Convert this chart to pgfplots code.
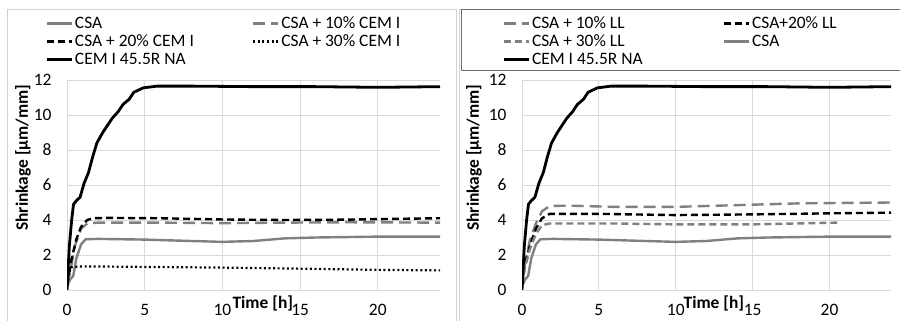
\documentclass[border=0pt]{standalone}
\usepackage{pgfplots}
\pgfplotsset{compat=1.18}
\usepackage{fontspec}
\setmainfont{Carlito}
\definecolor{csagray}{RGB}{128,128,128}
\definecolor{gridgray}{RGB}{217,217,217}
\definecolor{framegray}{RGB}{210,210,210}
\definecolor{boxgray}{RGB}{110,110,110}

\pgfplotsset{
 panel/.style={
  scale only axis, height=210bp,
  xmin=0, xmax=24, ymin=0, ymax=12,
  xtick={0,5,10,15,20}, ytick={0,2,...,12},
  grid=major, major grid style={gridgray, line width=0.9bp},
  axis line style={draw=none}, tick style={draw=none},
  ticklabel style={font=\fontsize{17.5}{21}\selectfont},
  /pgf/number format/assume math mode=true,
  xticklabel style={yshift=-11bp},
  yticklabel style={xshift=-12bp},
  label style={font=\fontsize{17.5}{21}\selectfont\bfseries},
  xlabel={Time [h]}, ylabel={Shrinkage [µm/mm]},
  legend columns=2,
  legend cell align=left,
  legend style={draw=none, fill=none, font=\fontsize{17.5}{21}\selectfont,
     anchor=north west, inner sep=0pt, row sep=0.8bp},
  legend image code/.code={\draw[##1] (0bp,0bp) -- (25bp,0bp);},
 },
 csa/.style={csagray, line width=2.4bp},
 cem/.style={black, line width=2.8bp},
 blackdash/.style={black, line width=2.4bp, dash pattern=on 7bp off 4bp},
 graylong/.style={csagray, line width=2.4bp, dash pattern=on 12bp off 6bp},
 grayshort/.style={csagray, line width=2.4bp, dash pattern=on 7bp off 4bp},
 dotted30/.style={black, line width=2.2bp, dash pattern=on 2bp off 2.6bp},
}

\pgfplotstableread{
t v
0 0
0.15 2.5
0.3 4.0
0.42 4.9
0.6 5.1
0.84 5.3
1.1 6.1
1.38 6.7
1.65 7.6
1.92 8.4
2.3 9.0
2.6 9.4
2.9 9.8
3.3 10.2
3.6 10.6
4.0 10.9
4.3 11.3
4.9 11.55
5.8 11.65
8 11.65
12 11.62
16 11.62
20 11.58
24 11.62
}\cemdata

\pgfplotstableread{
t v
0 0.2
0.2 0.6
0.4 0.8
0.6 1.8
0.9 2.6
1.2 2.9
2 2.92
5 2.88
8 2.8
10 2.75
12 2.8
14 2.95
16 3.0
20 3.05
24 3.05
}\csadata

\pgfplotstableread{
t v
0 0.3
0.2 1.0
0.5 2.5
0.9 3.5
1.3 3.8
2 3.85
6 3.85
10 3.82
14 3.85
18 3.87
24 3.85
}\cemten

\pgfplotstableread{
t v
0 0.3
0.1 0.8
0.3 1.8
0.6 2.9
0.9 3.6
1.3 4.0
1.7 4.1
2.5 4.12
6 4.1
10 4.03
14 4.0
18 4.02
20 4.05
24 4.1
}\cemtwenty

\pgfplotstableread{
t v
0 0
0.1 0.8
0.25 1.3
1 1.35
5 1.32
10 1.28
15 1.22
20 1.15
24 1.12
}\cemthirty

\pgfplotstableread{
t v
0 0.3
0.2 1.5
0.5 2.8
0.9 3.8
1.3 4.5
1.8 4.8
3 4.82
6 4.75
10 4.75
14 4.85
18 4.95
24 5.0
}\llten

\pgfplotstableread{
t v
0 0.3
0.2 1.5
0.5 2.5
0.9 3.5
1.3 4.1
1.8 4.35
5 4.35
10 4.28
15 4.32
20 4.38
24 4.42
}\lltwenty

\pgfplotstableread{
t v
0 0.3
0.2 1.3
0.5 2.3
0.9 3.2
1.3 3.7
1.8 3.8
6 3.8
10 3.75
15 3.75
20.5 3.85
}\llthirty

\begin{document}
\begin{tikzpicture}
\useasboundingbox (0bp,0bp) rectangle (900bp,321bp);
\fill[white] (0bp,0bp) rectangle (900bp,321bp);
\draw[framegray, line width=1bp] (7bp,-5bp) rectangle (456bp,311bp);
\draw[framegray, line width=1bp] (459bp,-5bp) rectangle (905bp,311bp);
\draw[boxgray, line width=1bp] (461bp,250bp) rectangle (905bp,311bp);

\begin{axis}[panel, width=373bp, at={(67bp,31bp)}, anchor=south west,
  xlabel style={at={(axis description cs:0.525,0)}, anchor=center, yshift=-13bp},
  ylabel style={at={(axis description cs:-0.118,0.63)}, anchor=center},
  legend style={at={(axis description cs:-0.059,1.312)},
     /tikz/every even column/.append style={column sep=56bp}},
]
\addplot[csa] table[x=t,y=v] {\csadata};
\addlegendentry{CSA}
\addplot[graylong] table[x=t,y=v] {\cemten};
\addlegendentry{CSA + 10\% CEM I}
\addplot[blackdash] table[x=t,y=v] {\cemtwenty};
\addlegendentry{CSA + 20\% CEM I}
\addplot[dotted30] table[x=t,y=v] {\cemthirty};
\addlegendentry{CSA + 30\% CEM I}
\addplot[cem] table[x=t,y=v] {\cemdata};
\addlegendentry{CEM I 45.5R NA}
\end{axis}

\begin{axis}[panel, width=369bp, at={(522bp,31bp)}, anchor=south west,
  xlabel style={at={(axis description cs:0.52,0)}, anchor=center, yshift=-13bp},
  ylabel style={at={(axis description cs:-0.13,0.63)}, anchor=center},
  legend style={at={(axis description cs:-0.054,1.312)},
     /tikz/every even column/.append style={column sep=78bp}},
]
\addplot[graylong] table[x=t,y=v] {\llten};
\addlegendentry{CSA + 10\% LL}
\addplot[blackdash] table[x=t,y=v] {\lltwenty};
\addlegendentry{CSA+20\% LL}
\addplot[grayshort] table[x=t,y=v] {\llthirty};
\addlegendentry{CSA + 30\% LL}
\addplot[csa] table[x=t,y=v] {\csadata};
\addlegendentry{CSA}
\addplot[cem] table[x=t,y=v] {\cemdata};
\addlegendentry{CEM I 45.5R NA}
\end{axis}
\end{tikzpicture}
\end{document}
